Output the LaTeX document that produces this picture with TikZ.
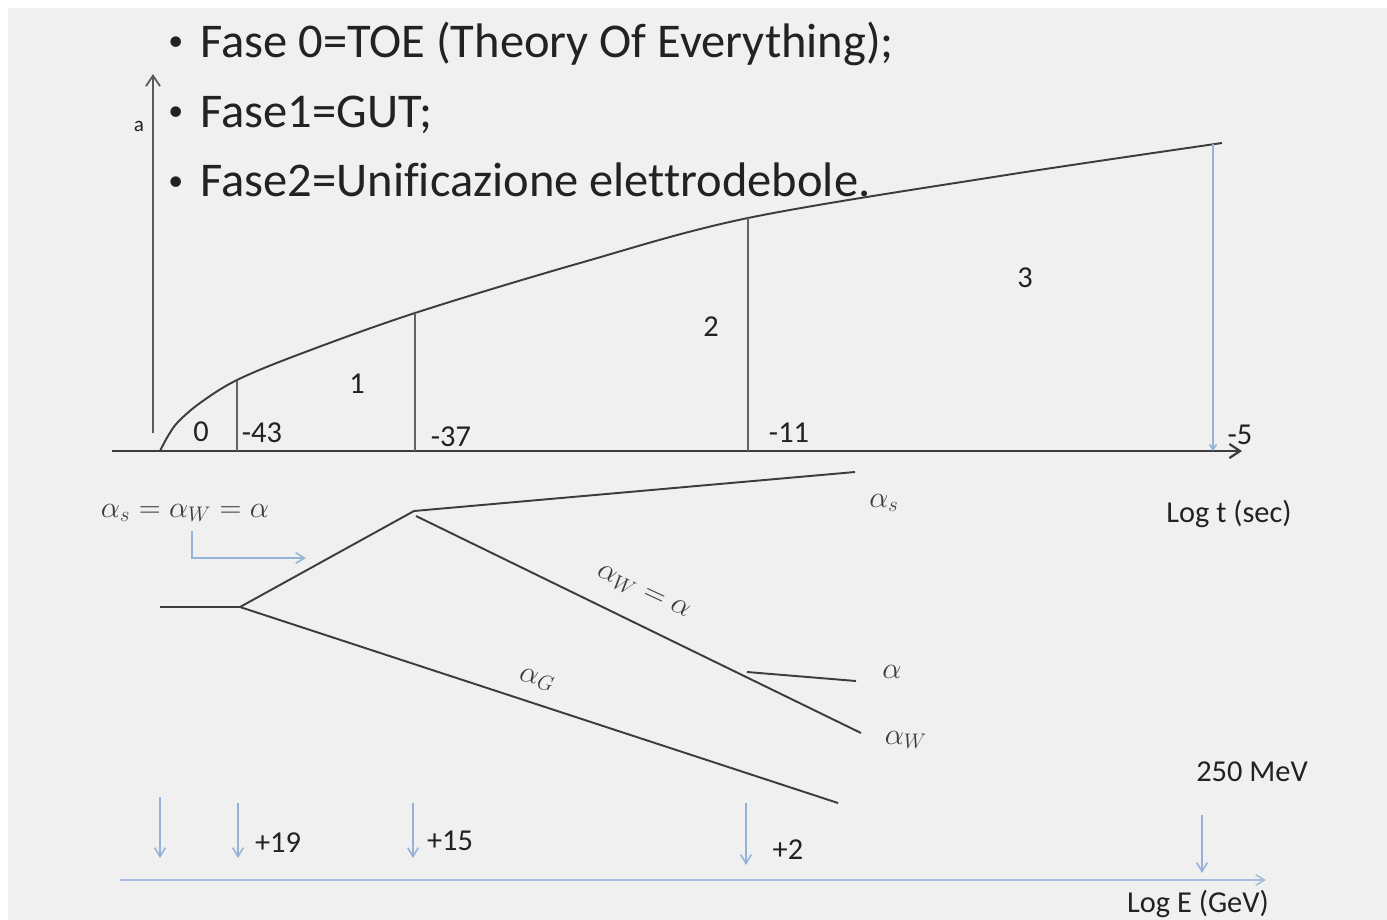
\documentclass[tikz,border=0pt]{standalone}
\usepackage{fontspec}
\setmainfont[Ligatures=NoCommon]{Carlito}
\usetikzlibrary{arrows.meta}
\definecolor{bg}{HTML}{F0F0F0}
\definecolor{ink}{HTML}{222222}
\definecolor{ln}{HTML}{3C3C3C}
\definecolor{lb}{HTML}{95B3D7}
\begin{document}
\begin{tikzpicture}[x=0.02cm,y=-0.02cm,
  big/.style={font=\fontsize{27.6}{32}\selectfont, text=ink, inner sep=0, anchor=base west},
  bul/.style={font=\fontsize{17}{20}\selectfont, text=ink, inner sep=0, anchor=base west},
  lab/.style={font=\fontsize{17.3}{20}\selectfont, text=ink, inner sep=0},
  mlab/.style={font=\fontsize{17.5}{20}\selectfont, text=ln, inner sep=0},
  treeline/.style={draw=ln, line width=1.1pt},
  vline/.style={draw=ln!80, line width=0.9pt},
  axisline/.style={draw=ln, line width=1.3pt, -{Straight Barb[length=6pt,width=8pt]}},
  barrow/.style={draw=lb, line width=0.9pt, -{Straight Barb[length=5pt,width=6pt]}},
]
\path[use as bounding box, fill=white] (0,0) rectangle (1387,920);
\fill[bg] (8,8) rectangle (1387,920);

% bullets
\node[bul] (b1) at (168,50) {•};
\node[big] (t1) at (200,57) {Fase 0=TOE (Theory Of Everything);};
\node[bul] (b2) at (168,120) {•};
\node[big] (t2) at (200,127) {Fase1=GUT;};
\node[bul] (b3) at (168,190) {•};
\node[big] (t3) at (200,196) {Fase2=Unificazione elettrodebole.};

% axes
\coordinate (ybot) at (153,433);
\coordinate (ytop) at (153,74);
\draw[draw=ln!85, line width=1pt, -{Straight Barb[length=6pt,width=8pt]}] (ybot) -- (ytop);
\node[lab, font=\fontsize{12}{14}\selectfont] (alab) at (139,126) {a};
\coordinate (xl) at (112,451);
\coordinate (xr) at (1242,451);
\draw[axisline] (xl) -- (xr);

% curve
\draw[treeline] plot[smooth, tension=0.55] coordinates {(160,451) (168,436) (178,422) (200,403) (237,380) (300,354) (415,313) (580,263) (748,218) (1000,176) (1222,143)};

% vertical separators
\coordinate (v1b) at (237,451); \coordinate (v1t) at (237,381);
\coordinate (v2b) at (415,451); \coordinate (v2t) at (415,313);
\coordinate (v3b) at (748,451); \coordinate (v3t) at (748,218);
\coordinate (v4b) at (1213,451); \coordinate (v4t) at (1213,144);
\draw[vline] (v1b) -- (v1t);
\draw[vline] (v2b) -- (v2t);
\draw[vline] (v3b) -- (v3t);
\draw[draw=lb, line width=0.9pt, -{Straight Barb[length=3pt,width=4pt]}] (v4t) -- (v4b);

% region labels
\node[lab] (n0) at (201,432) {0};
\node[lab] (n43) at (262,433) {-43};
\node[lab] (n1) at (357,384) {1};
\node[lab] (n37) at (451,437) {-37};
\node[lab] (n2) at (711,327) {2};
\node[lab] (n11) at (789,433) {-11};
\node[lab] (n3) at (1025,278) {3};
\node[lab] (n5) at (1240,435) {-5};
\node[lab] (logt) at (1229,514) {Log t (sec)};

% coupling tree
\node[mlab] (eq) at (185,513) {$\alpha_s=\alpha_W=\alpha$};
\coordinate (e1) at (192,531);
\coordinate (e2) at (192,558);
\coordinate (e3) at (306,558);
\draw[barrow] (e1) -- (e2) -- (e3);

\coordinate (p0) at (160,607);
\coordinate (pA) at (240,607);
\coordinate (pB) at (414,511);
\coordinate (pBw) at (416,516);
\coordinate (sEnd) at (855,472);
\coordinate (wEnd) at (861,733);
\coordinate (pC) at (747,672);
\coordinate (aEnd) at (856,681);
\coordinate (gEnd) at (838,803);
\draw[treeline] (p0) -- (pA) -- (pB) -- (sEnd);
\draw[treeline] (pBw) -- (wEnd);
\draw[treeline] (pC) -- (aEnd);
\draw[treeline] (pA) -- (gEnd);

\node[mlab] (las) at (884,503) {$\alpha_s$};
\node[mlab, rotate=-25] (law) at (643,593) {$\alpha_W=\alpha$};
\node[mlab, rotate=-12] (lag) at (537,680) {$\alpha_G$};
\node[mlab] (la) at (892,672) {$\alpha$};
\node[mlab] (lw) at (906,740) {$\alpha_W$};

% energy axis
\coordinate (ex1) at (120,880);
\coordinate (ex2) at (1266,880);
\draw[barrow, draw=lb!85] (ex1) -- (ex2);
\node[lab] (loge) at (1198,904) {Log E (GeV)};
\node[lab] (mev) at (1252,772) {250 MeV};

\coordinate (d1t) at (160,797); \coordinate (d1b) at (160,858);
\coordinate (d2t) at (238,803); \coordinate (d2b) at (238,858);
\coordinate (d3t) at (413,803); \coordinate (d3b) at (413,858);
\coordinate (d4t) at (746,803); \coordinate (d4b) at (746,865);
\coordinate (d5t) at (1202,815); \coordinate (d5b) at (1202,873);
\draw[barrow] (d1t) -- (d1b);
\draw[barrow] (d2t) -- (d2b);
\draw[barrow] (d3t) -- (d3b);
\draw[barrow] (d4t) -- (d4b);
\draw[barrow] (d5t) -- (d5b);
\node[lab] (p19) at (278,843) {+19};
\node[lab] (p15) at (450,841) {+15};
\node[lab] (p2) at (788,850) {+2};
\end{tikzpicture}
\end{document}
